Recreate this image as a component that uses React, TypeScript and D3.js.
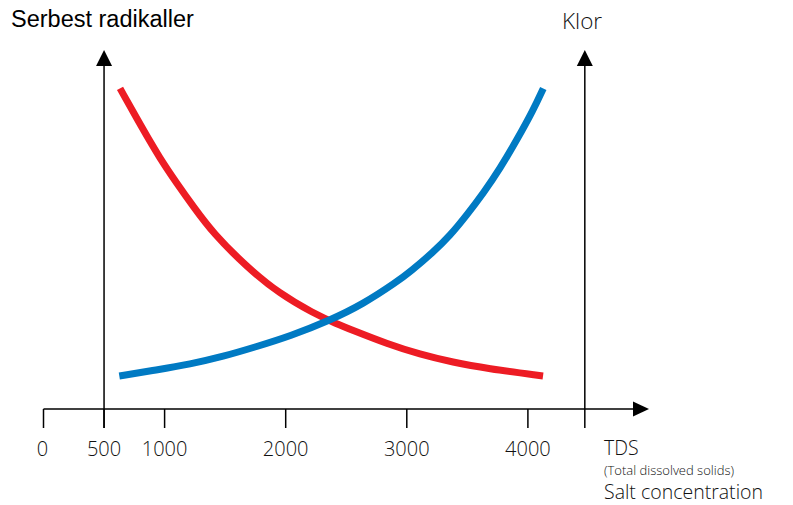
import React from "react";
import * as d3 from "d3";

const W = 793;
const H = 505;

const xTicks = [0, 500, 1000, 2000, 3000, 4000];
const xTickLabels = ["0", "500", "1000", "2000", "3000", "4000"];
const leftAxisValue = 500;
const rightAxisValue = 4470;

const redX = [632, 824, 962, 1100, 1237, 1402, 1678, 1953, 2228, 2421, 2556, 2834, 3109, 3381, 3660, 4125];
const redY = [89.3, 77.7, 69.8, 62.9, 56.4, 48.9, 39.6, 32.0, 26.7, 23.7, 21.9, 18.2, 15.2, 13.0, 11.3, 9.2];

const blueX = [626, 935, 1210, 1482, 1761, 2036, 2366, 2638, 2917, 3027, 3219, 3357, 3495, 3632, 3770, 3908, 4045, 4127];
const blueY = [9.2, 10.9, 12.5, 14.6, 17.4, 20.3, 24.7, 29.2, 35.4, 38.2, 43.7, 48.3, 54.0, 60.1, 67.0, 74.9, 83.3, 89.3];

const x = d3.scaleLinear().domain([0, 5000]).range([43.5, 649]);
const y = d3.scaleLinear().domain([0, 100]).range([409, 50]);

const line = d3
  .line<[number, number]>()
  .x((d) => x(d[0]))
  .y((d) => y(d[1]))
  .curve(d3.curveBasis);

export default function App() {
  const red = redX.map((v, i) => [v, redY[i]] as [number, number]);
  const blue = blueX.map((v, i) => [v, blueY[i]] as [number, number]);
  const y0 = y(0);
  const yTop = y(100);
  const tickBottom = y0 + 19;
  const lightFont = "'Open Sans', Lato, sans-serif";
  const arrowUp = (cx: number) =>
    `M${cx},${yTop} L${cx - 8},${yTop + 16} L${cx + 8},${yTop + 16} Z`;
  const xTip = x(5000);
  return (
    <svg
      width={W}
      height={H}
      style={{ position: "absolute", left: 0, top: 0, background: "#fff" }}
    >
      <path d={line(red) || ""} fill="none" stroke="#ed1c24" strokeWidth={7} />
      <path d={line(blue) || ""} fill="none" stroke="#007ac3" strokeWidth={7} />

      <line x1={x(0)} x2={xTip - 14} y1={y0} y2={y0} stroke="#000" strokeWidth={1.5} />
      <path d={`M${xTip},${y0} L${xTip - 16},${y0 - 7.5} L${xTip - 16},${y0 + 7.5} Z`} fill="#000" />
      {xTicks.map((t) => (
        <line key={t} x1={x(t)} x2={x(t)} y1={y0} y2={tickBottom} stroke="#000" strokeWidth={1.5} />
      ))}

      {[leftAxisValue, rightAxisValue].map((v) => (
        <g key={v}>
          <line x1={x(v)} x2={x(v)} y1={tickBottom} y2={yTop + 12} stroke="#000" strokeWidth={1.5} />
          <path d={arrowUp(x(v))} fill="#000" />
        </g>
      ))}

      {xTicks.map((t, i) => (
        <text
          key={t}
          x={x(t) - (t === 0 ? 1 : 0)}
          y={456}
          textAnchor="middle"
          fontFamily={lightFont}
          fontWeight={300}
          fontSize={20}
          fill="#111"
        >
          {xTickLabels[i]}
        </text>
      ))}

      <text x={604} y={454.5} fontFamily={lightFont} fontWeight={300} fontSize={19.5} fill="#111">
        TDS
      </text>
      <text x={604} y={474.5} fontFamily={lightFont} fontWeight={300} fontSize={13} fill="#111">
        (Total dissolved solids)
      </text>
      <text x={604} y={499} fontFamily={lightFont} fontWeight={300} fontSize={19.5} fill="#111">
        Salt concentration
      </text>

      <text x={11} y={27} fontFamily="'Liberation Sans', Arial, sans-serif" fontWeight={400} fontSize={23.5} fill="#000">
        Serbest radikaller
      </text>
      <text x={562} y={29} fontFamily={lightFont} fontWeight={300} fontSize={22.5} fill="#111">
        Klor
      </text>
    </svg>
  );
}
